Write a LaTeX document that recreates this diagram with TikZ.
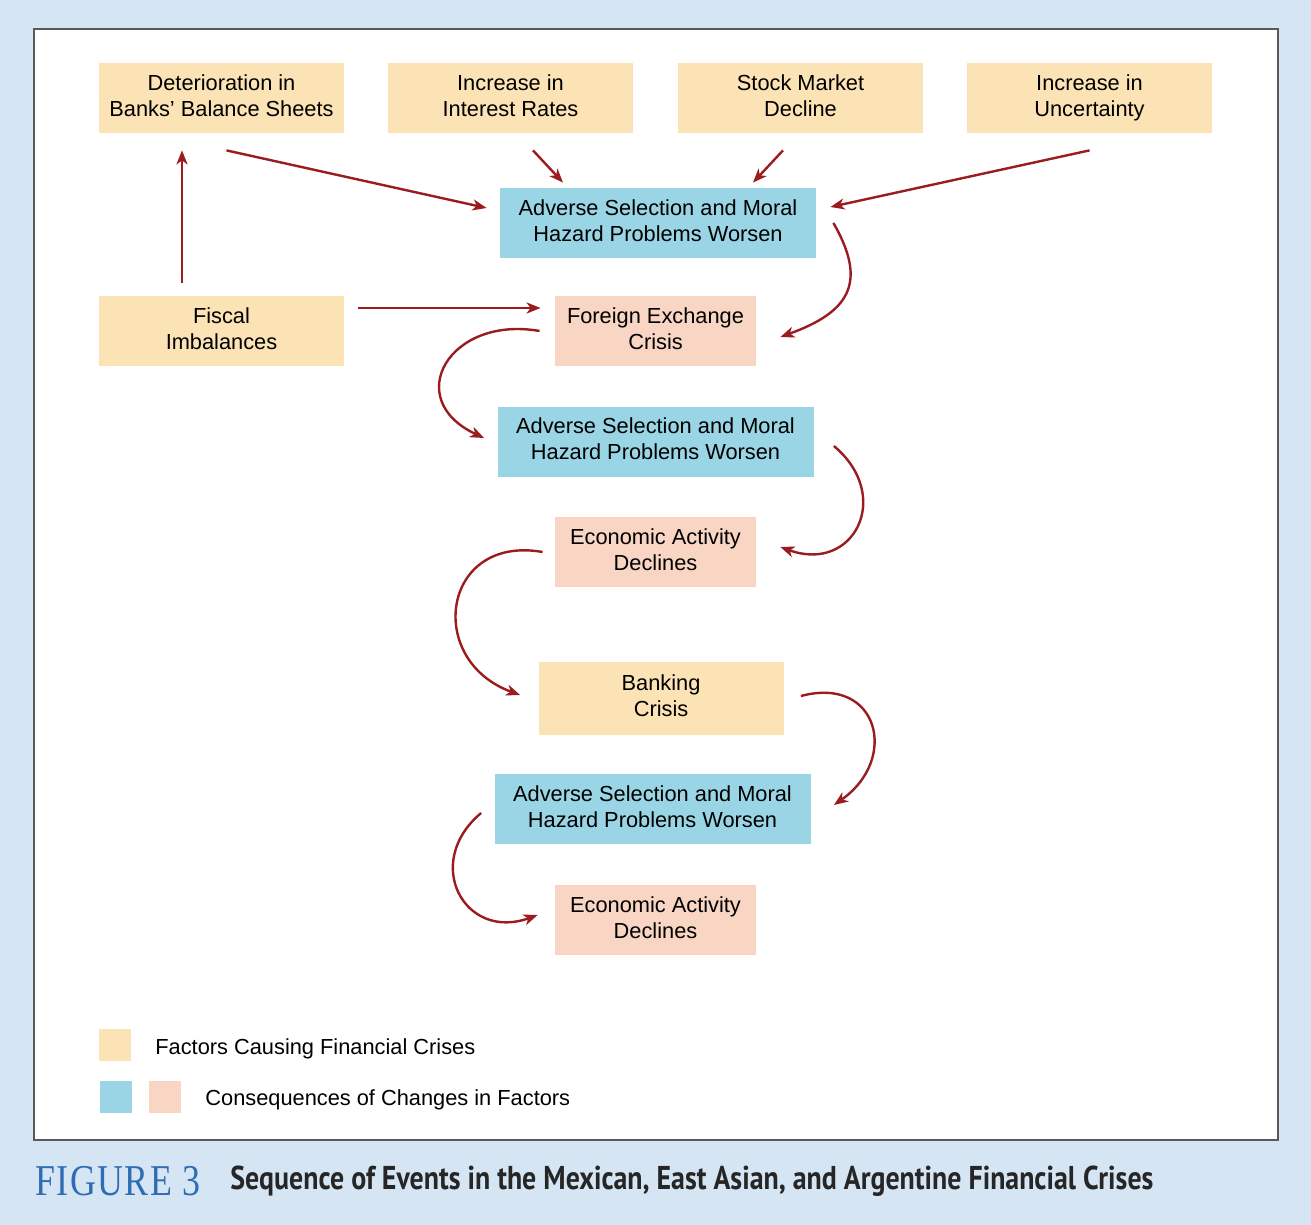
\documentclass[tikz,border=0pt]{standalone}
\usepackage{fontspec}
\setmainfont{Liberation Sans}
\newfontfamily\figfont{Liberation Serif}[LetterSpace=4]
\newfontfamily\capfont{PT Sans}
\usepackage{tikz}
\usetikzlibrary{arrows.meta,calc}
\definecolor{bgcol}{HTML}{D6E5F4}
\definecolor{factorcol}{HTML}{FBE3B6}
\definecolor{worsencol}{HTML}{9AD5E5}
\definecolor{resultcol}{HTML}{F9D5C4}
\definecolor{linkcol}{HTML}{9B1C1F}
\definecolor{figcol}{HTML}{2E6DB4}

\begin{document}
\begin{tikzpicture}[x=0.5pt,y=0.5pt,
      every node/.style={inner sep=0pt,align=center,font=\fontsize{10.9}{13}\selectfont},
      box/.style={execute at begin node=\rule{0pt}{15.7pt},execute at end node=\rule[-2.5pt]{0pt}{2.5pt}},
      factor/.style={box,fill=factorcol,minimum width=122.5pt,minimum height=35pt},
      worsen/.style={box,fill=worsencol,minimum width=158pt,minimum height=35pt},
      result/.style={box,fill=resultcol,minimum width=100.5pt,minimum height=35pt},
      key/.style={minimum width=16pt,minimum height=16pt},
      link/.style={draw=linkcol,line width=1.2pt,-{Stealth[length=7pt,width=5.5pt,inset=2pt]}}]
    \fill[bgcol] (0,0) rectangle (1311,-1225);
    \draw[fill=white,draw=black!65,line width=1pt] (34,-29) rectangle (1278,-1140);

    \node[factor] (deter) at (221.5,-98) {Deterioration in\\Banks’ Balance Sheets};
    \node[factor] (rates) at (510.5,-98) {Increase in\\Interest Rates};
    \node[factor] (stock) at (800.5,-98) {Stock Market\\Decline};
    \node[factor] (uncert) at (1089.5,-98) {Increase in\\Uncertainty};
    \node[worsen] (adv1) at (658,-223) {Adverse Selection and Moral\\Hazard Problems Worsen};
    \node[factor] (fiscal) at (221.5,-331) {Fiscal\\Imbalances};
    \node[result] (forex) at (655.5,-331) {Foreign Exchange\\Crisis};
    \node[worsen] (adv2) at (655.5,-441.5) {Adverse Selection and Moral\\Hazard Problems Worsen};
    \node[result] (econ1) at (655.5,-552) {Economic Activity\\Declines};
    \node[factor,minimum height=36.5pt] (bank) at (661,-698.5) {Banking\\Crisis};
    \node[worsen] (adv3) at (652.5,-809) {Adverse Selection and Moral\\Hazard Problems Worsen};
    \node[result] (econ2) at (655.5,-920) {Economic Activity\\Declines};

    \draw[link] ($(deter.south)+(5,-17)$) -- ($(adv1.west)+(-13,15)$);
    \draw[link] ($(rates.south)+(22.5,-17)$) -- ($(adv1.north)+(-95,5)$);
    \draw[link] ($(stock.south)+(-17.5,-17)$) -- ($(adv1.north)+(95,5)$);
    \draw[link] ($(uncert.south)+(0,-17)$) -- ($(adv1.east)+(14,16)$);
    \draw[link] ($(fiscal.north)+(-39.5,13)$) -- ($(deter.south)+(-39.5,-17)$);
    \draw[link] ($(fiscal.east)+(14,23)$) -- ($(forex.west)+(-14,23)$);

    \draw[link] ($(adv1.east)+(17,0)$) to[out=-60,in=20,looseness=1.45] ($(forex.east)+(24,-6)$);
    \draw[link] ($(forex.west)+(-15,0)$) to[out=170,in=155,looseness=1.95] ($(adv2.west)+(-13,3.5)$);
    \draw[link] ($(adv2.east)+(20,-4.5)$) to[out=-40,in=-20,looseness=1.75] ($(econ1.east)+(24,5)$);
    \draw[link] ($(econ1.west)+(-12,0)$) to[out=170,in=160,looseness=1.8] ($(bank.west)+(-18,3.5)$);
    \draw[link] ($(bank.east)+(17,2.5)$) to[out=15,in=35,looseness=1.8] ($(adv3.east)+(23,4)$);
    \draw[link] ($(adv3.west)+(-13,-4)$) to[out=-140,in=-160,looseness=1.7] ($(econ2.west)+(-17,5)$);

    \node[key,fill=factorcol] (keyfac) at (115,-1045) {};
    \node[key,fill=worsencol] (keywors) at (116,-1097) {};
    \node[key,fill=resultcol] (keyres) at (165,-1097) {};
    \node[anchor=west] (factext) at (155,-1049) {Factors Causing Financial Crises};
    \node[anchor=west] (constext) at (205,-1100) {Consequences of Changes in Factors};

    \node[anchor=west,text=figcol,font=\figfont\fontsize{22}{22}\selectfont] (fignum) at (35,-1181)
      {\resizebox{82.5pt}{\height}{FIGURE 3}};
    \node[anchor=west,text=black!85,font=\capfont\bfseries\fontsize{16.5}{16.5}\selectfont] (figtitle) at (230,-1181)
      {\resizebox{461.5pt}{\height}{Sequence of Events in the Mexican, East Asian, and Argentine Financial Crises}};
\end{tikzpicture}
\end{document}
